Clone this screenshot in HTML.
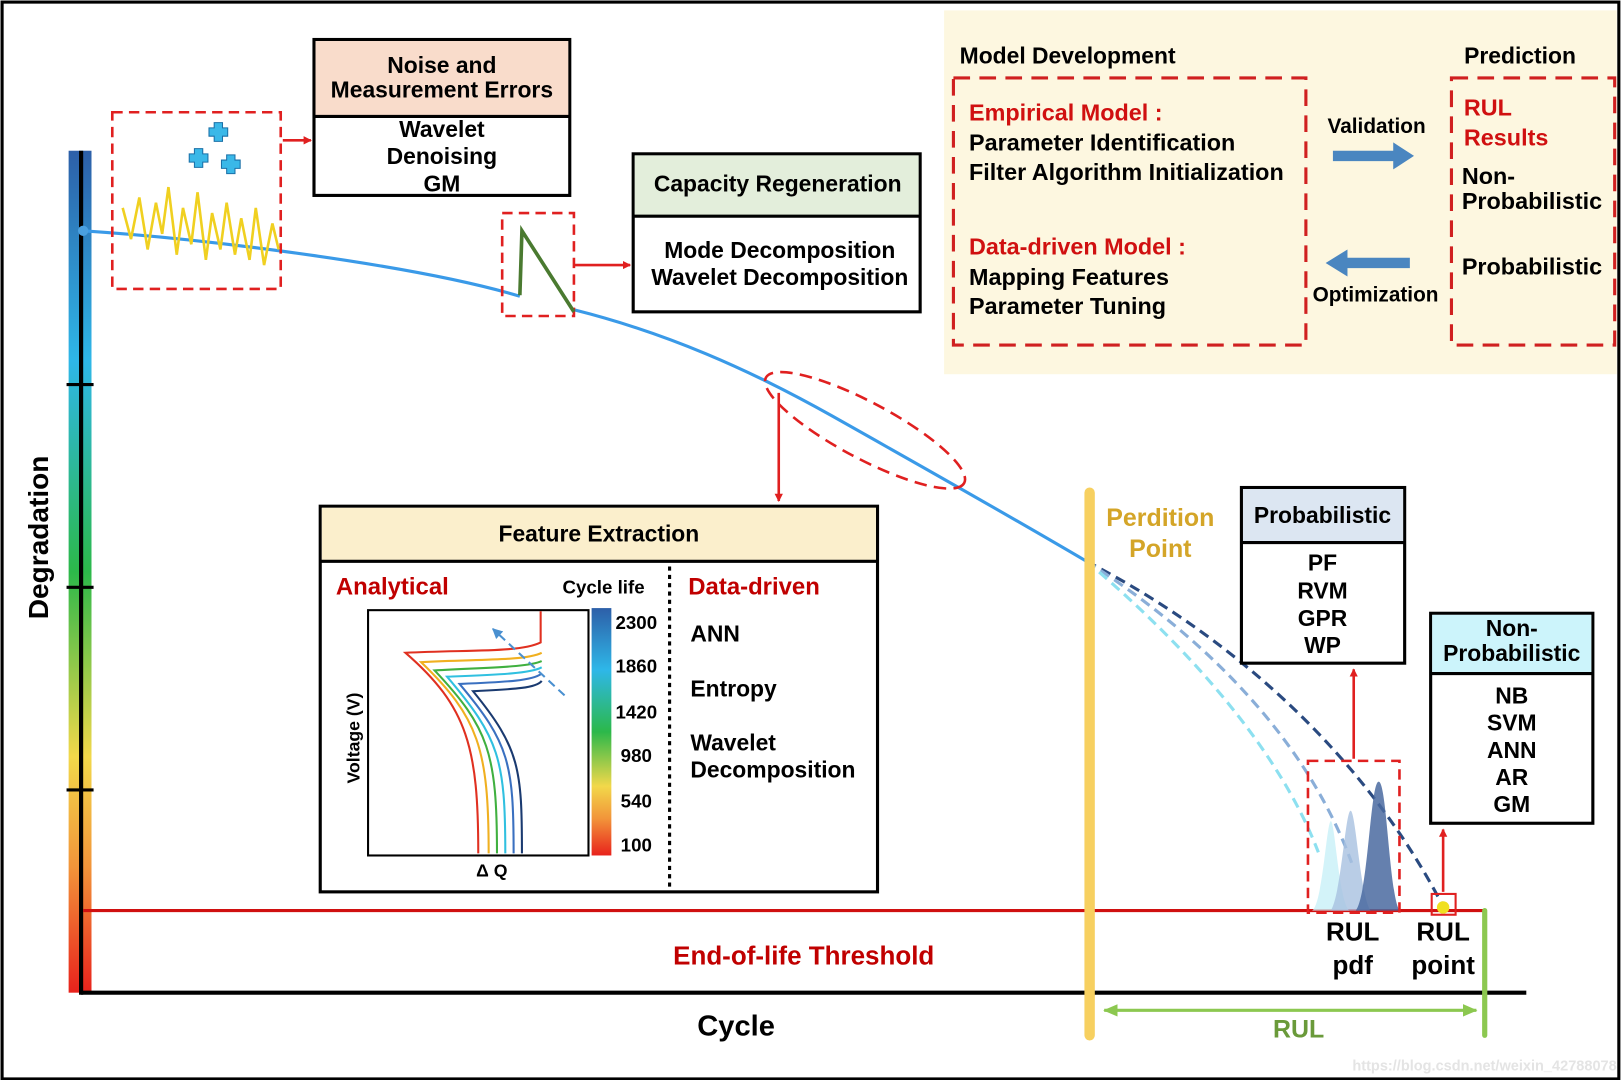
<!DOCTYPE html>
<html><head><meta charset="utf-8"><style>
html,body{margin:0;padding:0;background:#fff}
svg{display:block}
text{font-family:"Liberation Sans",Arial,sans-serif;font-weight:bold}
</style></head><body>
<svg width="1623" height="1080" viewBox="0 0 1561 1039" preserveAspectRatio="none" xmlns="http://www.w3.org/2000/svg">
<defs>
<linearGradient id="gv" x1="0" y1="0" x2="0" y2="1">
<stop offset="0" stop-color="#2d5fa8"/><stop offset="0.25" stop-color="#2eb7e8"/><stop offset="0.5" stop-color="#2cb84a"/><stop offset="0.72" stop-color="#f2d84a"/><stop offset="0.85" stop-color="#f2953a"/><stop offset="1" stop-color="#e8221c"/>
</linearGradient>
<marker id="ar" markerWidth="8" markerHeight="8" refX="7" refY="4" orient="auto" markerUnits="userSpaceOnUse"><path d="M0,0 L8,4 L0,8Z" fill="#e02020"/></marker>
<marker id="ag" markerWidth="14" markerHeight="12" refX="13" refY="6" orient="auto-start-reverse" markerUnits="userSpaceOnUse"><path d="M0,0 L14,6 L0,12Z" fill="#8cc850"/></marker>
<marker id="ab" markerWidth="10" markerHeight="10" refX="9" refY="5" orient="auto" markerUnits="userSpaceOnUse"><path d="M0,0 L10,5 L0,10Z" fill="#4a90d0"/></marker>
</defs>
<rect x="2" y="2" width="1555" height="1036" fill="#fff" stroke="#000" stroke-width="3"/>
<rect x="908" y="10" width="647" height="350" fill="#fdf7e0"/>
<rect x="66" y="145" width="22" height="810" fill="url(#gv)"/>
<line x1="78" y1="145" x2="78" y2="957" stroke="#000" stroke-width="4"/>
<g stroke="#000" stroke-width="3"><line x1="64" y1="370" x2="90" y2="370"/><line x1="64" y1="565" x2="90" y2="565"/><line x1="64" y1="760" x2="90" y2="760"/></g>
<line x1="78" y1="955" x2="1468" y2="955" stroke="#000" stroke-width="4"/>
<text transform="translate(46,517) rotate(-90)" text-anchor="middle" font-size="27">Degradation</text>
<text x="708" y="996" text-anchor="middle" font-size="28">Cycle</text>
<line x1="80" y1="876" x2="1428" y2="876" stroke="#d01010" stroke-width="3"/>
<text x="773" y="928" text-anchor="middle" font-size="25" fill="#c00000">End-of-life Threshold</text>
<path d="M80,222 C200,230 400,255 500,285 M552,298 C640,320 720,355 800,400 C880,445 960,490 1045,540" fill="none" stroke="#3a9ae8" stroke-width="3"/>
<circle cx="80" cy="222" r="5" fill="#4aa0e0"/>
<path d="M1045,540 C1200,620 1320,740 1388,872" fill="none" stroke="#2a4a80" stroke-width="3" stroke-dasharray="10,6"/>
<path d="M1045,540 C1170,620 1260,720 1300,830" fill="none" stroke="#8aaed8" stroke-width="3" stroke-dasharray="10,6"/>
<path d="M1045,540 C1140,620 1230,720 1268,820" fill="none" stroke="#8de0f0" stroke-width="3" stroke-dasharray="10,6"/>
<rect x="108" y="108" width="162" height="170" fill="none" stroke="#e02020" stroke-width="2.5" stroke-dasharray="10,6"/>
<polyline points="118,200 126,230 134,190 142,240 150,195 156,225 162,180 170,245 176,200 184,235 190,185 198,250 204,205 212,240 218,195 226,245 232,210 240,250 246,200 254,255 262,215 268,240" fill="none" stroke="#f0d020" stroke-width="2.5"/>
<g fill="#3ab8e8" stroke="#1a70a8" stroke-width="1">
<path d="M206,118h8v5h5v8h-5v5h-8v-5h-5v-8h5z"/>
<path d="M187,143h8v5h5v8h-5v5h-8v-5h-5v-8h5z"/>
<path d="M218,149h8v5h5v8h-5v5h-8v-5h-5v-8h5z"/>
</g>
<line x1="272" y1="135" x2="299" y2="135" stroke="#e02020" stroke-width="2.5" marker-end="url(#ar)"/>
<rect x="302" y="38" width="246" height="150" fill="#fff" stroke="#000" stroke-width="3"/>
<rect x="303.5" y="39.5" width="243" height="72" fill="#f9dccb"/>
<line x1="302" y1="112" x2="548" y2="112" stroke="#000" stroke-width="3"/>
<g font-size="22" text-anchor="middle"><text x="425" y="70">Noise and</text><text x="425" y="94">Measurement Errors</text>
<text x="425" y="132">Wavelet</text><text x="425" y="158">Denoising</text><text x="425" y="184">GM</text></g>
<rect x="483" y="205" width="69" height="99" fill="none" stroke="#e02020" stroke-width="2.5" stroke-dasharray="10,6"/>
<polyline points="500,284 502,222 552,300" fill="none" stroke="#4a7a30" stroke-width="3.5"/>
<line x1="552" y1="255" x2="606" y2="255" stroke="#e02020" stroke-width="2.5" marker-end="url(#ar)"/>
<rect x="609" y="148" width="276" height="152" fill="#fff" stroke="#000" stroke-width="3"/>
<rect x="610.5" y="149.5" width="273" height="58" fill="#e3eedb"/>
<line x1="609" y1="208" x2="885" y2="208" stroke="#000" stroke-width="3"/>
<g font-size="22" text-anchor="middle"><text x="748" y="184">Capacity Regeneration</text>
<text x="750" y="248">Mode Decomposition</text><text x="750" y="274">Wavelet Decomposition</text></g>
<ellipse cx="832" cy="414" rx="108" ry="27" transform="rotate(28 832 414)" fill="none" stroke="#e02020" stroke-width="2.5" stroke-dasharray="12,7"/>
<line x1="749" y1="378" x2="749" y2="482" stroke="#e02020" stroke-width="2.5" marker-end="url(#ar)"/>
<rect x="308" y="487" width="536" height="371" fill="#fff" stroke="#000" stroke-width="3"/>
<rect x="309.5" y="488.5" width="533" height="51" fill="#fbefcc"/>
<line x1="308" y1="540" x2="844" y2="540" stroke="#000" stroke-width="3"/>
<text x="576" y="521" text-anchor="middle" font-size="22">Feature Extraction</text>
<line x1="644" y1="545" x2="644" y2="858" stroke="#000" stroke-width="3" stroke-dasharray="4,4"/>
<text x="323" y="572" font-size="23" fill="#c00000">Analytical</text>
<text x="541" y="571" font-size="18">Cycle life</text>
<text x="662" y="572" font-size="23" fill="#c00000">Data-driven</text>
<g font-size="22"><text x="664" y="617">ANN</text><text x="664" y="670">Entropy</text><text x="664" y="722">Wavelet</text><text x="664" y="748">Decomposition</text></g>
<rect x="354" y="587" width="212" height="236" fill="#fff" stroke="#000" stroke-width="2"/>
<rect x="569" y="585" width="19" height="238" fill="url(#gv)"/>
<g font-size="18" text-anchor="middle"><text x="612" y="605">2300</text><text x="612" y="647">1860</text><text x="612" y="691">1420</text><text x="612" y="733">980</text><text x="612" y="777">540</text><text x="612" y="819">100</text></g>
<text transform="translate(346,710) rotate(-90)" text-anchor="middle" font-size="17">Voltage (V)</text>
<text x="473" y="843" text-anchor="middle" font-size="17">Δ Q</text>
<g fill="none" stroke-width="2">
<path d="M460,821 C460,720 450,680 390,628 C450,625 500,628 520,618 L520,588" stroke="#e03020"/>
<path d="M470,821 C470,720 460,690 405,637 C460,634 505,636 521,628" stroke="#f0b020"/>
<path d="M478,821 C478,725 470,700 418,645 C470,642 508,642 521,636" stroke="#40b040"/>
<path d="M486,821 C486,730 480,710 430,651 C480,649 510,648 521,642" stroke="#30c0e0"/>
<path d="M494,821 C494,735 490,715 442,658 C488,656 512,655 521,648" stroke="#3a70c0"/>
<path d="M502,821 C502,740 500,720 455,665 C495,663 516,662 521,655" stroke="#1a3a70"/>
</g>
<line x1="543" y1="669" x2="474" y2="605" stroke="#4a90d0" stroke-width="2" stroke-dasharray="8,5" marker-end="url(#ab)"/>
<line x1="1048" y1="474" x2="1048" y2="996" stroke="#f7d060" stroke-width="10" stroke-linecap="round"/>
<g font-size="24" fill="#d4a528" text-anchor="middle"><text x="1116" y="506">Perdition</text><text x="1116" y="536">Point</text></g>
<rect x="1194" y="469" width="157" height="169" fill="#fff" stroke="#000" stroke-width="3"/>
<rect x="1195.5" y="470.5" width="154" height="51" fill="#dce6f2"/>
<line x1="1194" y1="522" x2="1351" y2="522" stroke="#000" stroke-width="3"/>
<g font-size="22" text-anchor="middle"><text x="1272" y="503">Probabilistic</text>
<text x="1272" y="549">PF</text><text x="1272" y="576">RVM</text><text x="1272" y="602">GPR</text><text x="1272" y="628">WP</text></g>
<rect x="1376" y="590" width="156" height="202" fill="#fff" stroke="#000" stroke-width="3"/>
<rect x="1377.5" y="591.5" width="153" height="56" fill="#ccf4fb"/>
<line x1="1376" y1="648" x2="1532" y2="648" stroke="#000" stroke-width="3"/>
<g font-size="22" text-anchor="middle"><text x="1454" y="612">Non-</text><text x="1454" y="636">Probabilistic</text>
<text x="1454" y="677">NB</text><text x="1454" y="703">SVM</text><text x="1454" y="729">ANN</text><text x="1454" y="755">AR</text><text x="1454" y="781">GM</text></g>
<path d="M1262,876 C1272,870 1276,790 1280,790 C1284,790 1288,870 1298,876Z" fill="#c8f0f8" opacity="0.8"/>
<path d="M1280,876 C1290,860 1294,780 1299,780 C1304,780 1308,860 1318,876Z" fill="#a8c0e0" opacity="0.8"/>
<path d="M1304,876 C1316,860 1318,752 1326,752 C1334,752 1336,860 1346,876Z" fill="#4a6aa0" opacity="0.85"/>
<rect x="1258" y="732" width="88" height="146" fill="none" stroke="#e02020" stroke-width="2.5" stroke-dasharray="10,6"/>
<line x1="1302" y1="730" x2="1302" y2="644" stroke="#e02020" stroke-width="2.5" marker-end="url(#ar)"/>
<line x1="1388" y1="858" x2="1388" y2="798" stroke="#e02020" stroke-width="2.5" marker-end="url(#ar)"/>
<rect x="1377" y="860" width="23" height="20" fill="none" stroke="#e02020" stroke-width="2"/>
<circle cx="1388" cy="873" r="6" fill="#f0e020"/>
<g font-size="25" text-anchor="middle"><text x="1301" y="905">RUL</text><text x="1301" y="937">pdf</text><text x="1388" y="905">RUL</text><text x="1388" y="937">point</text></g>
<line x1="1428" y1="876" x2="1428" y2="996" stroke="#8cc850" stroke-width="5" stroke-linecap="round"/>
<line x1="1062" y1="972" x2="1420" y2="972" stroke="#8cc850" stroke-width="3" marker-start="url(#ag)" marker-end="url(#ag)"/>
<text x="1249" y="998" text-anchor="middle" font-size="24" fill="#6a9a3a">RUL</text>
<text x="923" y="61" font-size="22">Model Development</text>
<text x="1462" y="61" text-anchor="middle" font-size="22">Prediction</text>
<rect x="917" y="75" width="339" height="257" fill="none" stroke="#d02020" stroke-width="3" stroke-dasharray="16,9"/>
<rect x="1396" y="75" width="157" height="257" fill="none" stroke="#d02020" stroke-width="3" stroke-dasharray="16,9"/>
<g font-size="22.5"><text x="932" y="116" fill="#d01010">Empirical Model :</text><text x="932" y="145">Parameter Identification</text><text x="932" y="173">Filter Algorithm Initialization</text>
<text x="932" y="245" fill="#d01010">Data-driven Model :</text><text x="932" y="274">Mapping Features</text><text x="932" y="302">Parameter Tuning</text>
<text x="1408" y="111" fill="#d01010">RUL</text><text x="1408" y="140" fill="#d01010">Results</text>
<text x="1406" y="177">Non-</text><text x="1406" y="201">Probabilistic</text><text x="1406" y="264">Probabilistic</text></g>
<text x="1324" y="128" text-anchor="middle" font-size="20" font-weight="normal">Validation</text>
<text x="1323" y="290" text-anchor="middle" font-size="20" font-weight="normal">Optimization</text>
<path d="M1282,145 H1340 V137 L1360,150 L1340,163 V155 H1282Z" fill="#4a86c0"/>
<path d="M1356,248 H1296 V240 L1275,253 L1296,266 V258 H1356Z" fill="#4a86c0"/>
<text x="1555" y="1030" text-anchor="end" font-size="14" font-weight="normal" fill="#e4e4e4">https://blog.csdn.net/weixin_42788078</text>
</svg>
</body></html>
